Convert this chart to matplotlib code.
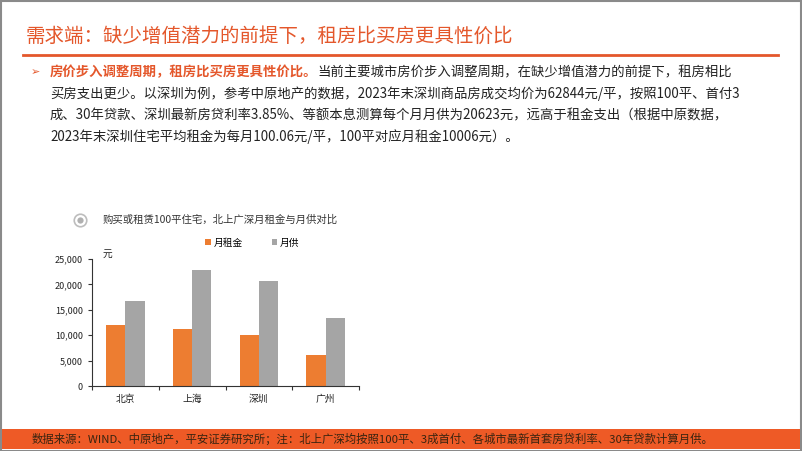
import numpy as np
import matplotlib.pyplot as plt
from matplotlib.patches import Rectangle
from matplotlib.ticker import FuncFormatter

plt.rcParams['font.family'] = ['Noto Sans CJK SC', 'DejaVu Sans']

# data (元/月, 100平)
cities = ['北京', '上海', '深圳', '广州']
rent = [12100, 11300, 10006, 6050]       # 月租金
payment = [16750, 22900, 20623, 13450]   # 月供
yticks = [0, 5000, 10000, 15000, 20000, 25000]

title = '需求端：缺少增值潜力的前提下，租房比买房更具性价比'
bullet_head = '房价步入调整周期，租房比买房更具性价比。'
bullet_lines = [
    '当前主要城市房价步入调整周期，在缺少增值潜力的前提下，租房相比',
    '买房支出更少。以深圳为例，参考中原地产的数据，2023年末深圳商品房成交均价为62844元/平，按照100平、首付3',
    '成、30年贷款、深圳最新房贷利率3.85%、等额本息测算每个月月供为20623元，远高于租金支出（根据中原数据，',
    '2023年末深圳住宅平均租金为每月100.06元/平，100平对应月租金10006元）。',
]
chart_title = '购买或租赁100平住宅，北上广深月租金与月供对比'
source = '数据来源：WIND、中原地产，平安证券研究所；注：北上广深均按照100平、3成首付、各城市最新首套房贷利率、30年贷款计算月供。'

W, H = 802, 451
ORANGE = '#E4572B'
BAR_OR = '#ED7D31'
BAR_GR = '#A5A5A5'

fig = plt.figure(figsize=(W / 100, H / 100), dpi=100)

def fx(x):
    return x / W

def fy(y):
    return 1 - y / H

# frame
fig.patches.append(Rectangle((0.001, 0.001), 0.998, 0.997, transform=fig.transFigure,
                             fill=False, edgecolor='#8a8a8a', linewidth=1.5))

# header
fig.text(fx(26), fy(36), title, color=ORANGE, fontsize=14, va='center', ha='left')
fig.add_artist(plt.Line2D([fx(23), fx(778)], [fy(55), fy(55)], transform=fig.transFigure,
                          color=ORANGE, linewidth=2))

# bullet text
fig.text(fx(31), fy(72), '➢', color=ORANGE, fontsize=8, va='center', ha='left',
         family=['DejaVu Sans'])
t = fig.text(fx(50), fy(72), bullet_head, color=ORANGE, fontsize=9.6, va='center',
             ha='left', fontweight='bold')
fig.canvas.draw()
bb = t.get_window_extent()
fig.text(bb.x1 / W, fy(72), bullet_lines[0], color='#222222', fontsize=9.6,
         va='center', ha='left')
for i, line in enumerate(bullet_lines[1:]):
    fig.text(fx(50), fy(93.5 + 21.5 * i), line, color='#222222', fontsize=9.6,
             va='center', ha='left')

# chart title with icon
fig.add_artist(plt.Line2D([fx(80)], [fy(220)], transform=fig.transFigure, marker='o',
                          markersize=9, markerfacecolor='white', markeredgecolor='#bdbdbd',
                          markeredgewidth=1.2))
fig.add_artist(plt.Line2D([fx(80)], [fy(220)], transform=fig.transFigure, marker='o',
                          markersize=4.5, markerfacecolor='#b0b0b0', markeredgecolor='none'))
fig.text(fx(103), fy(220), chart_title, color='#333333', fontsize=7.5,
         va='center', ha='left')

# bar chart
ax = fig.add_axes([fx(92), fy(386), (359 - 92) / W, (386 - 259) / H])
x = np.arange(len(cities))
w = 0.29
ax.bar(x - w / 2, rent, w, color=BAR_OR, label='月租金')
ax.bar(x + w / 2, payment, w, color=BAR_GR, label='月供')
ax.set_xlim(-0.5, len(cities) - 0.5)
ax.set_ylim(0, 25000)
ax.set_yticks(yticks)
ax.yaxis.set_major_formatter(FuncFormatter(lambda v, p: f'{int(v):,}'))
ax.set_xticks(np.arange(len(cities) + 1) - 0.5)
ax.set_xticklabels([])
ax.set_xticks(x, minor=True)
ax.set_xticklabels(cities, minor=True)
ax.tick_params(axis='x', which='minor', length=0, labelsize=7, pad=6, colors='#222222')
ax.tick_params(axis='x', which='major', length=3, color='#333333')
ax.tick_params(axis='y', length=3, labelsize=6.5, colors='#222222', color='#333333')
for s in ['top', 'right']:
    ax.spines[s].set_visible(False)
for s in ['left', 'bottom']:
    ax.spines[s].set_color('#333333')
    ax.spines[s].set_linewidth(0.8)
ax.text(0.04, 1.0, '元', transform=ax.transAxes, fontsize=7, va='bottom', ha='left',
        color='#222222')
ax.legend(loc='lower center', bbox_to_anchor=(0.6, 1.02), ncol=2, frameon=False,
          fontsize=7, handlelength=0.6, handleheight=0.6, handletextpad=0.2,
          columnspacing=3.0)

# source band
fig.patches.append(Rectangle((fx(2), fy(449)), (W - 4) / W, 20 / H, transform=fig.transFigure,
                             facecolor='#EE5A26', edgecolor='none'))
fig.text(fx(32), fy(439), source, color='#3a2410', fontsize=8.2, va='center', ha='left')

fig.savefig('out.png', dpi=100)
